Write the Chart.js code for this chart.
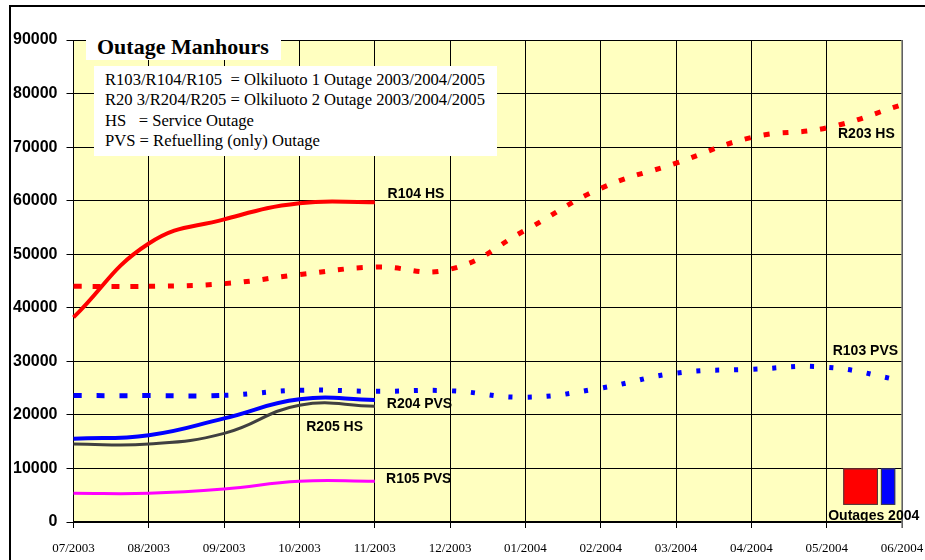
<!DOCTYPE html>
<html>
<head>
<meta charset="utf-8">
<script src="https://cdn.jsdelivr.net/npm/chart.js@4.4.0/dist/chart.umd.min.js"></script>
<style>
  html, body { margin: 0; padding: 0; background: #ffffff; }
  #wrap { position: relative; width: 925px; height: 560px; overflow: hidden; }
  #c { position: absolute; left: 0; top: 0; }
  #frame { position: absolute; left: 9px; top: 5px; width: 940px; height: 600px;
           border-left: 2px solid #000; border-top: 2px solid #000; pointer-events: none; }
  #title { position: absolute; left: 86px; top: 33px; width: 195px; height: 27px; background: #fff;
           font: bold 22px "Liberation Serif", "Times New Roman", serif; color: #000;
           box-sizing: border-box; padding-left: 11px; line-height: 27px; }
  #legend { position: absolute; left: 94px; top: 66px; width: 403px; height: 90px; background: #fff;
            font: 16.6px "Liberation Serif", "Times New Roman", serif; color: #000;
            box-sizing: border-box; padding: 4px 0 0 11px; line-height: 20.3px; white-space: pre; }
</style>
</head>
<body>
<div id="wrap">
  <canvas id="c" width="925" height="560"></canvas>
  <div id="frame"></div>
  <div id="title">Outage Manhours</div>
  <div id="legend">R103/R104/R105  = Olkiluoto 1 Outage 2003/2004/2005
R20 3/R204/R205 = Olkiluoto 2 Outage 2003/2004/2005
HS   = Service Outage
PVS = Refuelling (only) Outage</div>
</div>
<script>
// ---- data ----
const months = ["07/2003","08/2003","09/2003","10/2003","11/2003","12/2003","01/2004","02/2004","03/2004","04/2004","05/2004","06/2004"];
const r104HS  = [38200, 52000, 56500, 59500, 59700];
const r203HS  = [44000, 44000, 44500, 46200, 47600, 47200, 54500, 62300, 67000, 71800, 73600, 77900];
const r103PVS = [23600, 23600, 23650, 24600, 24400, 24500, 23300, 25000, 27800, 28500, 28900, 26400];
const r204PVS = [15550, 16200, 19350, 22900, 22800];
const r205HS  = [14550, 14550, 16550, 21800, 21600];
const r105PVS = [5350, 5350, 6150, 7600, 7600];
const yTicks  = [0, 10000, 20000, 30000, 40000, 50000, 60000, 70000, 80000, 90000];
// series labels: [text, month position (index), value]
const seriesLabels = [
  ["R104 HS", 4.17, 61200],
  ["R203 HS", 10.15, 72400],
  ["R103 PVS", 10.08, 31900],
  ["R204 PVS", 4.16, 22000],
  ["R205 HS", 3.09, 17700],
  ["R105 PVS", 4.15, 8000],
  ["Outages 2004", 10.02, 1100]
];
// "Outages 2004" key boxes: [colour, from index, to index, from value, to value]
const outageKeys = [
  ["#ff0000", 10.22, 10.68, 3200, 10000],
  ["#0000ff", 10.72, 10.91, 3200, 10000]
];

const plotBg = {
  id: 'plotBg',
  beforeDraw(chart) {
    const {ctx, chartArea: a} = chart;
    ctx.save();
    ctx.fillStyle = '#FFFFC0';
    ctx.fillRect(a.left, a.top, a.right - a.left, a.bottom - a.top);
    ctx.restore();
  },
  afterDatasetsDraw(chart) {
    const {ctx, chartArea: a, scales: {x, y}} = chart;
    ctx.save();
    ctx.strokeStyle = '#808080';
    ctx.lineWidth = 1.5;
    ctx.beginPath(); ctx.moveTo(a.right, a.top); ctx.lineTo(a.right, a.bottom + 6); ctx.stroke();
    const px = v => x.getPixelForDecimal(v / (months.length - 1));
    outageKeys.forEach(([col, i0, i1, v0, v1]) => {
      const l = px(i0), r = px(i1), t = y.getPixelForValue(v1), b = y.getPixelForValue(v0);
      ctx.fillStyle = col;
      ctx.fillRect(l, t, r - l, b - t);
      ctx.strokeStyle = '#404040';
      ctx.lineWidth = 1;
      ctx.strokeRect(l + 0.5, t + 0.5, r - l - 1, b - t - 1);
    });
    ctx.fillStyle = '#000';
    ctx.font = 'bold 14px "Liberation Sans", Arial, sans-serif';
    ctx.textAlign = 'left';
    ctx.textBaseline = 'middle';
    seriesLabels.forEach(([t, i, v]) => {
      ctx.fillText(t, px(i), y.getPixelForValue(v));
    });
    ctx.restore();
  }
};

const dashFor = (earlySegs, early, late) => ({
  borderDash: ctx => ctx.p0DataIndex < earlySegs ? early : late
});

new Chart(document.getElementById('c'), {
  type: 'line',
  data: {
    labels: months,
    datasets: [
      { label: 'R203 HS', data: r203HS, borderColor: '#ff0000', borderWidth: 5, tension: 0.45,
        segment: dashFor(1, [8, 11], [6, 13]), borderCapStyle: 'butt' },
      { label: 'R103 PVS', data: r103PVS, borderColor: '#0000ff', borderWidth: 5, tension: 0.45,
        segment: dashFor(2, [8, 15], [4, 15]), borderCapStyle: 'butt' },
      { label: 'R104 HS', data: r104HS, borderColor: '#ff0000', borderWidth: 4, tension: 0.45 },
      { label: 'R204 PVS', data: r204PVS, borderColor: '#0000ff', borderWidth: 4, tension: 0.45 },
      { label: 'R205 HS', data: r205HS, borderColor: '#404040', borderWidth: 3, tension: 0.45 },
      { label: 'R105 PVS', data: r105PVS, borderColor: '#ff00ff', borderWidth: 3, tension: 0.45 }
    ]
  },
  options: {
    responsive: false,
    animation: false,
    layout: { padding: { left: 10, top: 40, right: 0, bottom: 0 } },
    elements: { point: { radius: 0 } },
    plugins: { legend: { display: false }, tooltip: { enabled: false } },
    scales: {
      x: {
        type: 'category',
        offset: false,
        grid: { color: '#000', lineWidth: 1, tickLength: 6, drawTicks: true },
        border: { color: '#000', width: 1.5 },
        ticks: { color: '#000', font: { family: '"Liberation Serif", "Times New Roman", serif', size: 13 },
                 maxRotation: 0, autoSkip: false, padding: 13 },
        afterFit: s => { s.height = 38; s.paddingRight = 23; s.paddingLeft = 0; }
      },
      y: {
        min: 0, max: 90000,
        afterBuildTicks: s => { s.ticks = yTicks.map(v => ({ value: v })); },
        grid: { color: '#000', lineWidth: 1, tickLength: 7 },
        border: { color: '#000', width: 1 },
        ticks: { color: '#000', font: { family: '"Liberation Sans", Arial, sans-serif', size: 16, weight: 'bold' },
                 padding: 9, callback: v => String(v) },
        afterFit: s => { s.width = 63.5; }
      }
    }
  },
  plugins: [plotBg]
});
</script>
</body>
</html>
